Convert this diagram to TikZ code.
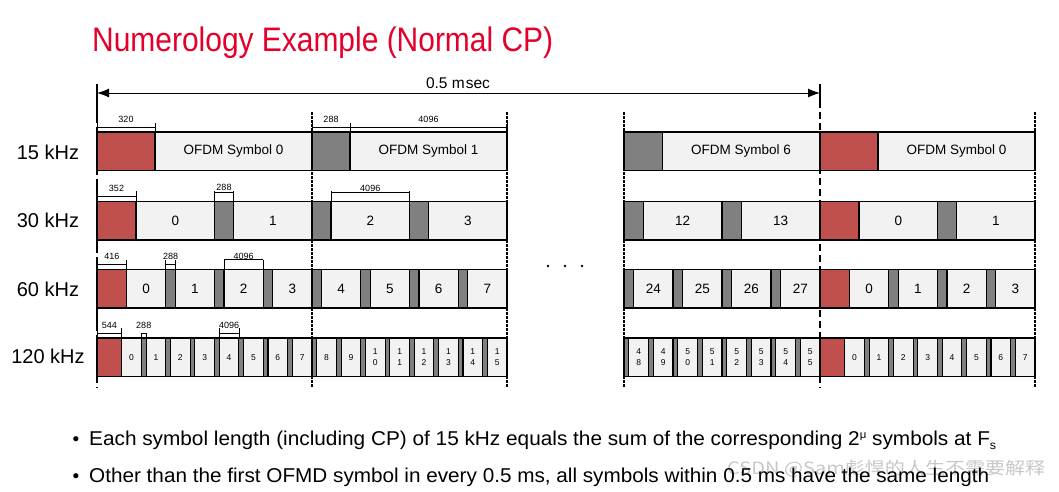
\documentclass[tikz,border=0pt]{standalone}
\usepackage{fontspec}
\setmainfont{Liberation Sans}
\newfontfamily\cjkfont{Noto Sans CJK SC}
\usetikzlibrary{arrows.meta}
\definecolor{cpred}{RGB}{192,80,77}
\definecolor{cpgray}{RGB}{128,128,128}
\definecolor{symfill}{RGB}{242,242,242}
\definecolor{titlered}{RGB}{228,0,43}
\definecolor{wmgray}{RGB}{200,200,200}
\tikzset{
  box/.style={draw=black,line width=1.1pt},
  lblbig/.style={inner sep=0pt,font=\fontsize{13.5}{15}\selectfont},
  lblsmall/.style={inner sep=0pt,align=center,font=\fontsize{8.5}{10.5}\selectfont},
  dimline/.style={draw=black,line width=0.8pt},
  dimlbl/.style={inner sep=0pt,font=\fontsize{9}{10}\selectfont},
  rowlbl/.style={inner sep=0pt,font=\fontsize{20}{22}\selectfont},
  guide/.style={line width=1.3pt,dash pattern=on 2.5pt off 1.5pt},
  bound/.style={line width=2pt,dash pattern=on 7pt off 4pt},
  leftbound/.style={line width=2pt,dash pattern=on 22pt off 4pt},
}
% #1 prefix, #2 x0, #3 x1, #4 ytop, #5 period, #6 m, #7 red first, #8 label style, #9 labels
\newcommand\symblock[9]{%
  \foreach \lab [count=\k from 0] in {#9}{%
    \pgfmathsetmacro\gw{0.195*#5}%
    \pgfmathsetmacro\lw{#5-\gw}%
    \pgfmathsetmacro\xs{#3-(#6-\k)*#5}%
    \pgfmathsetmacro\xe{\xs+#5}%
    \pgfmathsetmacro\xc{\xs+\gw}%
    \def\cpcol{cpgray}%
    \ifnum\k=0 \ifnum#7=1
      \pgfmathsetmacro\xs{#2}%
      \pgfmathsetmacro\xc{\xe-\lw}%
      \def\cpcol{cpred}%
    \fi\fi
    \draw[box,fill=\cpcol] (\xs,#4) rectangle (\xc,#4+38.5);
    \draw[box,fill=symfill] (\xc,#4) rectangle (\xe,#4+38.5);
    \node[#8] (#1-\k) at ({(\xc+\xe)/2},#4+19.25) {\lab};
  }}
% #1 name, #2 x0, #3 x1, #4 yline, #5 ytick top, #6 ybot, #7 label, #8 label y
\newcommand\dimbar[8]{%
  \draw[dimline] (#2,#5) -- (#2,#6) (#3,#5) -- (#3,#6) (#2,#4) -- (#3,#4);
  \node[dimlbl] (#1) at ({(#2+#3)/2},#8) {#7};}

\begin{document}
\begin{tikzpicture}[x=1pt,y=-1pt]
\useasboundingbox (0,0) rectangle (1059,491);
\fill[white] (0,0) rectangle (1059,491);

% title
\node[anchor=base west,inner sep=0pt,text=titlered] (title) at (92,51)
  {\resizebox{461pt}{\height}{\fontsize{34}{38}\selectfont Numerology Example (Normal CP)}};

% row labels
\node[rowlbl] (l15) at (48,152) {15 kHz};
\node[rowlbl] (l30) at (48,220) {30 kHz};
\node[rowlbl] (l60) at (48,289) {60 kHz};
\node[rowlbl] (l120) at (48,356) {120 kHz};

% 15 kHz
\symblock{a15}{97}{312}{132}{195}{1}{1}{lblbig}{OFDM Symbol 0}
\symblock{b15}{312}{507}{132}{195}{1}{0}{lblbig}{OFDM Symbol 1}
\symblock{c15}{624}{820}{132}{196}{1}{0}{lblbig}{OFDM Symbol 6}
\symblock{d15}{820}{1035}{132}{195}{1}{1}{lblbig}{OFDM Symbol 0}
% 30 kHz
\symblock{a30}{97}{312}{201.5}{97.5}{2}{1}{lblbig}{0,1}
\symblock{b30}{312}{507}{201.5}{97.5}{2}{0}{lblbig}{2,3}
\symblock{c30}{624}{820}{201.5}{98}{2}{0}{lblbig}{12,13}
\symblock{d30}{820}{1035}{201.5}{97.5}{2}{1}{lblbig}{0,1}
% 60 kHz
\symblock{a60}{97}{312}{269.5}{48.75}{4}{1}{lblbig}{0,1,2,3}
\symblock{b60}{312}{507}{269.5}{48.75}{4}{0}{lblbig}{4,5,6,7}
\symblock{c60}{624}{820}{269.5}{49}{4}{0}{lblbig}{24,25,26,27}
\symblock{d60}{820}{1035}{269.5}{48.75}{4}{1}{lblbig}{0,1,2,3}
% 120 kHz
\symblock{a120}{97}{312}{338}{24.375}{8}{1}{lblsmall}{0,1,2,3,4,5,6,7}
\symblock{b120}{312}{507}{338}{24.375}{8}{0}{lblsmall}{8,9,{1\\0},{1\\1},{1\\2},{1\\3},{1\\4},{1\\5}}
\symblock{c120}{624}{820}{338}{24.5}{8}{0}{lblsmall}{{4\\8},{4\\9},{5\\0},{5\\1},{5\\2},{5\\3},{5\\4},{5\\5}}
\symblock{d120}{820}{1035}{338}{24.375}{8}{1}{lblsmall}{0,1,2,3,4,5,6,7}

% dimension brackets
\dimbar{d320}{97}{155}{127}{123}{132}{320}{119}
\dimbar{d288a}{312}{350}{127}{123}{132}{288}{119}
\dimbar{d4096a}{350}{507}{127}{123}{132}{4096}{119}
\dimbar{d352}{97}{136}{196}{191}{201.5}{352}{188}
\dimbar{d288b}{214.5}{233.5}{192}{191}{201.5}{288}{187.5}
\dimbar{d4096b}{331}{409.5}{192}{191}{201.5}{4096}{188}
\dimbar{d416}{97}{126.75}{264}{260}{269.5}{416}{256.5}
\dimbar{d288c}{165.75}{175.3}{264}{260}{269.5}{288}{256.5}
\dimbar{d4096c}{224}{263.25}{259.5}{259.5}{269.5}{4096}{256.5}
\dimbar{d544}{97}{121.8}{333}{328}{338}{544}{325}
\dimbar{d288d}{141.4}{146.1}{333}{333}{338}{288}{325}
\dimbar{d4096d}{219.25}{238.9}{333}{328}{338}{4096}{325}

% guide lines
\foreach \gx/\gn in {312/g1,507/g2,624/g3,1035/g4}{
  \coordinate (\gn t) at (\gx,112);
  \coordinate (\gn b) at (\gx,388);
  \draw[guide] (\gn t) -- (\gn b);
}
\coordinate (leftT) at (97,101);
\coordinate (leftB) at (97,388);
\coordinate (midT) at (820,101);
\coordinate (midB) at (820,388);
\draw[leftbound] (leftT) -- (leftB);
\draw[bound] (midT) -- (midB);

% 0.5 msec arrow
\coordinate (arrL) at (97,93);
\coordinate (arrR) at (820,93);
\draw[line width=2pt] (97,84) -- (97,101) (820,84) -- (820,101);
\draw[line width=1pt,{Latex[length=12pt,width=9pt]}-{Latex[length=12pt,width=9pt]}] (arrL) -- (arrR);
\node[inner sep=0pt,font=\fontsize{15.5}{17}\selectfont] (msec) at (458,83) {0.5 m\kern1pt sec};

% dots
\fill (548,266) circle (1.3pt) (565,266) circle (1.3pt) (582,266) circle (1.3pt);

% watermark
\node[anchor=base west,inner sep=0pt,text=wmgray] (wm) at (727,474)
  {\resizebox{318pt}{\height}{\fontsize{17}{20}\selectfont\cjkfont CSDN @Sam彪悍的人生不需要解释}};

% bullet text
\node[anchor=base,inner sep=0pt,font=\fontsize{19}{20}\selectfont] (bul1) at (76,445) {•};
\node[anchor=base,inner sep=0pt,font=\fontsize{19}{20}\selectfont] (bul2) at (76,482) {•};
\node[anchor=base west,inner sep=0pt] (t1) at (89,445)
  {\resizebox{907pt}{\height}{\fontsize{20}{22}\selectfont Each symbol length (including CP) of 15 kHz equals the sum of the corresponding 2\raisebox{7pt}{\fontsize{11}{11}\selectfont μ} symbols at F\raisebox{-4pt}{\fontsize{12}{12}\selectfont s}}};
\node[anchor=base west,inner sep=0pt] (t2) at (89,482)
  {\resizebox{900pt}{\height}{\fontsize{20}{22}\selectfont Other than the first OFMD symbol in every 0.5 ms, all symbols within 0.5 ms have the same length}};
\end{tikzpicture}
\end{document}
